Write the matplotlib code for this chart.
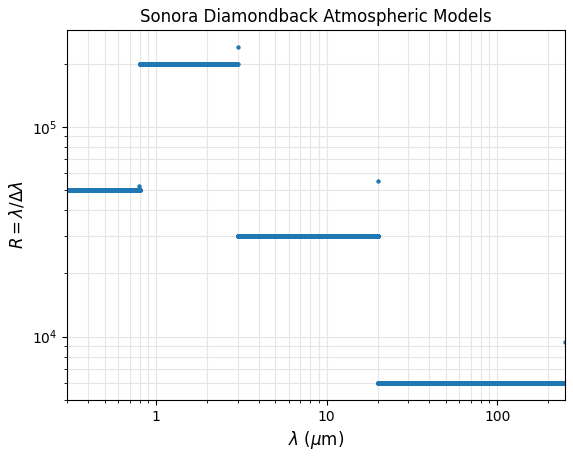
import numpy as np
import matplotlib
matplotlib.use("Agg")
import matplotlib.pyplot as plt

# Segments of constant resolving power (wavelength ranges in micron)
seg_start = [0.3, 0.8, 3.0, 20.0]
seg_end = [0.8, 3.0, 20.0, 250.0]
seg_R = [50000, 200000, 30000, 6000]
# Isolated points at segment boundaries
edge_wl = [0.794, 3.0, 20.1, 250.0]
edge_R = [52000, 240000, 55000, 9400]

wl = []
R = []
for a, b, r in zip(seg_start, seg_end, seg_R):
    w = np.geomspace(a, b, 3000)
    wl.append(w)
    R.append(np.full_like(w, r, dtype=float))
wl = np.concatenate(wl + [np.array(edge_wl)])
R = np.concatenate(R + [np.array(edge_R, dtype=float)])

fig = plt.figure(figsize=(5.73, 4.58), dpi=100)
ax = fig.add_axes([0.117, 0.127, 0.869, 0.807])
ax.scatter(wl, R, s=10, color="#1f77b4", linewidths=0)
ax.set_xscale("log")
ax.set_yscale("log")
ax.set_xlim(0.3, 250)
ax.xaxis.set_major_formatter(matplotlib.ticker.ScalarFormatter())
ax.grid(True, which="both", color="#e6e6e6", linewidth=0.8)
ax.set_axisbelow(True)
ax.set_xlabel(r"$\lambda$ ($\mu$m)", fontsize=12)
ax.set_ylabel(r"$R = \lambda/\Delta\lambda$", fontsize=12)
ax.set_title("Sonora Diamondback Atmospheric Models", fontsize=12)
fig.savefig("out.png", dpi=100)
